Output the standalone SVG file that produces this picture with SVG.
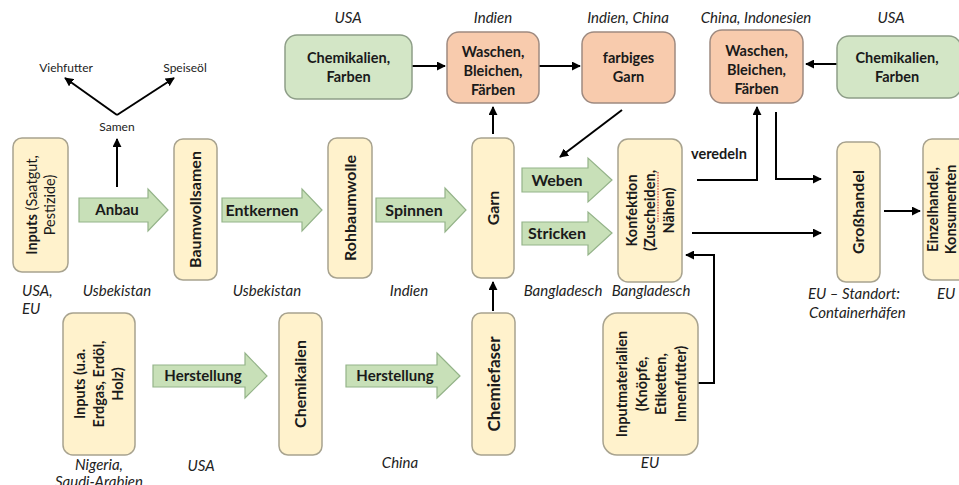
<svg xmlns="http://www.w3.org/2000/svg" width="959" height="485" viewBox="0 0 959 485">
<defs>
<style>
.y{fill:#FFF2CC;stroke:#A8A38F;stroke-width:1.5}
.g{fill:#D3E6C6;stroke:#8E9E88;stroke-width:1.5}
.o{fill:#F8CBAD;stroke:#9E8A80;stroke-width:1.5}
.ba{fill:#C8E0B8;stroke:#94B389;stroke-width:1.2}
.b{font-family:Lato,"Liberation Sans",sans-serif;font-weight:bold;font-size:14.5px;fill:#1a1a1a;text-anchor:middle}
.v{font-size:16px}
.a{font-size:16px}
.r{font-weight:normal}
.i{font-family:Lato,"Liberation Sans",sans-serif;font-style:italic;font-size:15px;fill:#222;text-anchor:middle}
.s{font-family:Lato,"Liberation Sans",sans-serif;font-size:12px;fill:#222;text-anchor:middle}
.c{fill:none;stroke:#000;stroke-width:2}
</style>
<marker id="ah" viewBox="0 0 10 10" refX="9" refY="5" markerWidth="4.5" markerHeight="4.5" orient="auto" markerUnits="strokeWidth">
<path d="M0,0 L10,5 L0,10 z" fill="#000"/>
</marker>
</defs>

<g id="connectors">
<path class="c" d="M117,115 L65,78" marker-end="url(#ah)"/>
<path class="c" d="M117,115 L174,78" marker-end="url(#ah)"/>
<path class="c" d="M117,187 L117,139" marker-end="url(#ah)"/>
<path class="c" d="M412,66 L445,66" marker-end="url(#ah)"/>
<path class="c" d="M539,66 L580,66" marker-end="url(#ah)"/>
<path class="c" d="M493,134 L493,107" marker-end="url(#ah)"/>
<path class="c" d="M622,110 L560,157" marker-end="url(#ah)"/>
<path class="c" d="M493,311 L493,282" marker-end="url(#ah)"/>
<path class="c" d="M697,180 L757,180 L757,107" marker-end="url(#ah)"/>
<path class="c" d="M776,112 L776,179 L821,179" marker-end="url(#ah)"/>
<path class="c" d="M692,233 L821,233" marker-end="url(#ah)"/>
<path class="c" d="M884,211 L920,211" marker-end="url(#ah)"/>
<path class="c" d="M837,64 L806,64" marker-end="url(#ah)"/>
<path class="c" d="M698,383 L714,383 L714,255 L686,255" marker-end="url(#ah)"/>
</g>

<g id="labels">
<text class="s" x="66" y="72">Viehfutter</text>
<text class="s" x="185" y="72">Speiseöl</text>
<text class="s" x="117" y="131">Samen</text>
<text class="b" x="691" y="159" style="text-anchor:start">veredeln</text>
<text class="i" x="348" y="23">USA</text>
<text class="i" x="493" y="23">Indien</text>
<text class="i" x="628" y="23">Indien, China</text>
<text class="i" x="756" y="23">China, Indonesien</text>
<text class="i" x="891" y="23">USA</text>
<text class="i" x="22" y="296" style="text-anchor:start">USA,</text>
<text class="i" x="22" y="314" style="text-anchor:start">EU</text>
<text class="i" x="117" y="296">Usbekistan</text>
<text class="i" x="267" y="296">Usbekistan</text>
<text class="i" x="409" y="296">Indien</text>
<text class="i" x="563" y="296">Bangladesch</text>
<text class="i" x="651" y="296">Bangladesch</text>
<text class="i" x="808" y="299" style="text-anchor:start">EU – Standort:</text>
<text class="i" x="809" y="318" style="text-anchor:start">Containerhäfen</text>
<text class="i" x="937" y="299" style="text-anchor:start">EU</text>
<text class="i" x="99" y="470">Nigeria,</text>
<text class="i" x="99" y="487">Saudi-Arabien</text>
<text class="i" x="201" y="471">USA</text>
<text class="i" x="400" y="468">China</text>
<text class="i" x="650" y="468">EU</text>
</g>

<g id="arrow-anbau"><path class="ba" d="M79,198 H148 V189 L168,210 L148,231 V222 H79 Z"/><text class="b" style="font-size:15px" x="117" y="215">Anbau</text></g>
<g id="arrow-entkernen"><path class="ba" d="M222,198 H302 V189 L322,210 L302,231 V222 H222 Z"/><text class="b a" x="262" y="215.5">Entkernen</text></g>
<g id="arrow-spinnen"><path class="ba" d="M376,198 H445 V188 L466,210 L445,232 V222 H376 Z"/><text class="b a" x="414" y="215.5">Spinnen</text></g>
<g id="arrow-weben"><path class="ba" d="M522,168 H588 V158 L612,180 L588,202 V192 H522 Z"/><text class="b a" x="557" y="185.5">Weben</text></g>
<g id="arrow-stricken"><path class="ba" d="M522,222 H588 V212 L612,233 L588,255 V245 H522 Z"/><text class="b a" x="557" y="238.5">Stricken</text></g>
<g id="arrow-herstellung1"><path class="ba" d="M153,365 H245 V353 L267,376 L245,398 V387 H153 Z"/><text class="b" style="font-size:15px" x="203" y="381">Herstellung</text></g>
<g id="arrow-herstellung2"><path class="ba" d="M346,365 H437 V353 L460,376 L437,398 V387 H346 Z"/><text class="b" style="font-size:15px" x="395" y="381">Herstellung</text></g>

<g id="node-inputs1"><rect class="y" x="13" y="138" width="55" height="134" rx="9"/>
<text class="b" transform="translate(40.5,205) rotate(-90)"><tspan x="0" y="-3.5">Inputs<tspan class="r"> (Saatgut,</tspan></tspan><tspan class="r" x="0" y="14">Pestizide)</tspan></text></g>
<g id="node-baumwollsamen"><rect class="y" x="174" y="139" width="43" height="141" rx="9"/>
<text class="b v" transform="translate(195.5,209.5) rotate(-90)" y="5.5">Baumwollsamen</text></g>
<g id="node-rohbaumwolle"><rect class="y" x="328" y="138" width="44" height="140" rx="9"/>
<text class="b v" transform="translate(350,208) rotate(-90)" y="5.5">Rohbaumwolle</text></g>
<g id="node-garn"><rect class="y" x="472" y="138" width="42" height="140" rx="9"/>
<text class="b v" transform="translate(493,208) rotate(-90)" y="5.5">Garn</text></g>
<g id="node-konfektion"><rect class="y" x="618" y="139" width="64" height="143" rx="10"/>
<text class="b" transform="translate(650,210.5) rotate(-90)"><tspan x="0" y="-13.5">Konfektion</tspan><tspan x="0" y="5">(Zuscheiden,</tspan><tspan x="0" y="23.5">Nähen)</tspan></text>
<path d="M658,172 V222" stroke="#d04040" stroke-width="1.2" stroke-dasharray="1.5,1.2"/></g>
<g id="node-grosshandel"><rect class="y" x="837" y="142" width="43" height="140" rx="9"/>
<text class="b v" transform="translate(858.5,212) rotate(-90)" y="5.5">Großhandel</text></g>
<g id="node-einzelhandel"><rect class="y" x="923" y="139" width="48" height="141" rx="9"/>
<text class="b" transform="translate(942,209.5) rotate(-90)"><tspan x="0" y="-4">Einzelhandel,</tspan><tspan x="0" y="14">Konsumenten</tspan></text></g>
<g id="node-inputs2"><rect class="y" x="63" y="313" width="72" height="142" rx="10"/>
<text class="b" transform="translate(99,384) rotate(-90)"><tspan x="0" y="-14">Inputs (u.a.</tspan><tspan x="0" y="5">Erdgas, Erdöl,</tspan><tspan x="0" y="24">Holz)</tspan></text></g>
<g id="node-chemikalien-unten"><rect class="y" x="279" y="313" width="43" height="142" rx="9"/>
<text class="b v" transform="translate(300.5,384) rotate(-90)" y="5.5">Chemikalien</text></g>
<g id="node-chemiefaser"><rect class="y" x="472" y="313" width="43" height="142" rx="9"/>
<text class="b v" style="font-size:17px" transform="translate(493.5,384) rotate(-90)" y="6">Chemiefaser</text></g>
<g id="node-inputmaterialien"><rect class="y" x="603" y="313" width="95" height="142" rx="14"/>
<text class="b" transform="translate(651,384) rotate(-90)"><tspan x="0" y="-24">Inputmaterialien</tspan><tspan x="0" y="-4.5">(Knöpfe,</tspan><tspan x="0" y="15">Etiketten,</tspan><tspan x="0" y="34.5">Innenfutter)</tspan></text></g>

<g id="node-chem-farben-1"><rect class="g" x="285" y="35" width="127" height="64" rx="12"/>
<text class="b"><tspan x="348.5" y="63">Chemikalien,</tspan><tspan x="348.5" y="82">Farben</tspan></text></g>
<g id="node-waschen-1"><rect class="o" x="447" y="32" width="92" height="71" rx="12"/>
<text class="b"><tspan x="493" y="57">Waschen,</tspan><tspan x="493" y="76">Bleichen,</tspan><tspan x="493" y="95">Färben</tspan></text></g>
<g id="node-farbiges-garn"><rect class="o" x="582" y="32" width="93" height="71" rx="12"/>
<text class="b"><tspan x="628.5" y="63">farbiges</tspan><tspan x="628.5" y="82">Garn</tspan></text></g>
<g id="node-waschen-2"><rect class="o" x="710" y="30" width="93" height="73" rx="12"/>
<text class="b"><tspan x="756.5" y="56">Waschen,</tspan><tspan x="756.5" y="75">Bleichen,</tspan><tspan x="756.5" y="94">Färben</tspan></text></g>
<g id="node-chem-farben-2"><rect class="g" x="837" y="36" width="124" height="62" rx="12"/>
<text class="b"><tspan x="897" y="63">Chemikalien,</tspan><tspan x="897" y="82">Farben</tspan></text></g>
</svg>
